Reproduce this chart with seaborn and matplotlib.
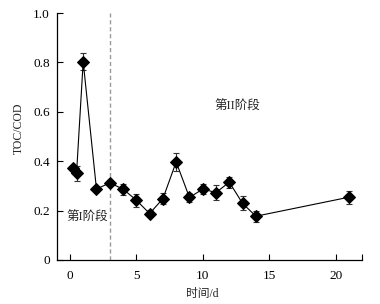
import matplotlib
matplotlib.use("Agg")

import matplotlib.pyplot as plt
import seaborn as sns
import pandas as pd

# ------------------------ DATA --------------------------

days = [0.2, 0.5, 1, 2, 3, 4, 5, 6, 7, 8, 9, 10, 11, 12, 13, 14, 21]
toc_cod = [0.374, 0.351, 0.803, 0.287, 0.312, 0.287, 0.242, 0.188, 0.248, 0.397,
           0.253, 0.287, 0.273, 0.315, 0.229, 0.177, 0.254]
err = [0.01, 0.03, 0.035, 0.01, 0.01, 0.022, 0.027, 0.015, 0.022, 0.036,
       0.02, 0.019, 0.03, 0.022, 0.028, 0.023, 0.027]

x_ticks = [0, 5, 10, 15, 20]
y_ticks = [0, 0.2, 0.4, 0.6, 0.8, 1.0]
y_tick_labels = ["0", "0.2", "0.4", "0.6", "0.8", "1.0"]
stage_split = 3

FONTS = ["Liberation Serif", "Noto Sans CJK SC", "DejaVu Sans"]

# ------------------------ PLOT --------------------------

sns.set_theme(style="ticks")
plt.rcParams["font.family"] = FONTS

df = pd.DataFrame({"day": days, "ratio": toc_cod})

fig = plt.figure(figsize=(3.8, 3.04), dpi=100)
ax = fig.add_axes([0.149, 0.145, 0.804, 0.812])

ax.axvline(stage_split, color="#999999", linestyle=(0, (3, 2)), linewidth=1.0, zorder=1)

ax.errorbar(days, toc_cod, yerr=err, fmt="none", ecolor="#333333",
            elinewidth=0.8, capsize=2.5, capthick=0.8, zorder=2)
sns.lineplot(data=df, x="day", y="ratio", ax=ax, color="black", linewidth=0.8,
             marker="D", markersize=6, markeredgecolor="black", zorder=3,
             sort=False)

ax.set_xlim(-1, 22)
ax.set_ylim(0, 1.0)
ax.set_xticks(x_ticks)
ax.set_xticks([22], minor=True)
ax.set_yticks(y_ticks)
ax.set_yticklabels(y_tick_labels)

ax.tick_params(axis="both", which="both", direction="in", length=4, width=0.8,
               labelsize=9.5, colors="black", pad=5)
ax.tick_params(axis="x", pad=7)

for side in ["top", "right"]:
    ax.spines[side].set_visible(False)
for side in ["left", "bottom"]:
    ax.spines[side].set_linewidth(0.9)
    ax.spines[side].set_color("black")

ax.set_xlabel("时间/d", fontsize=8.5, family=FONTS)
ax.set_ylabel("TOC/COD", fontsize=8.5, family=FONTS)
ax.xaxis.set_label_coords(0.477, -0.113)
ax.yaxis.set_label_coords(-0.104, 0.534)

ax.text(-0.25, 0.17, "第I阶段", fontsize=9, va="center", ha="left", family=FONTS)
ax.text(10.85, 0.62, "第II阶段", fontsize=9, va="center", ha="left", family=FONTS)

fig.savefig("out.png", dpi=100)
plt.close(fig)
